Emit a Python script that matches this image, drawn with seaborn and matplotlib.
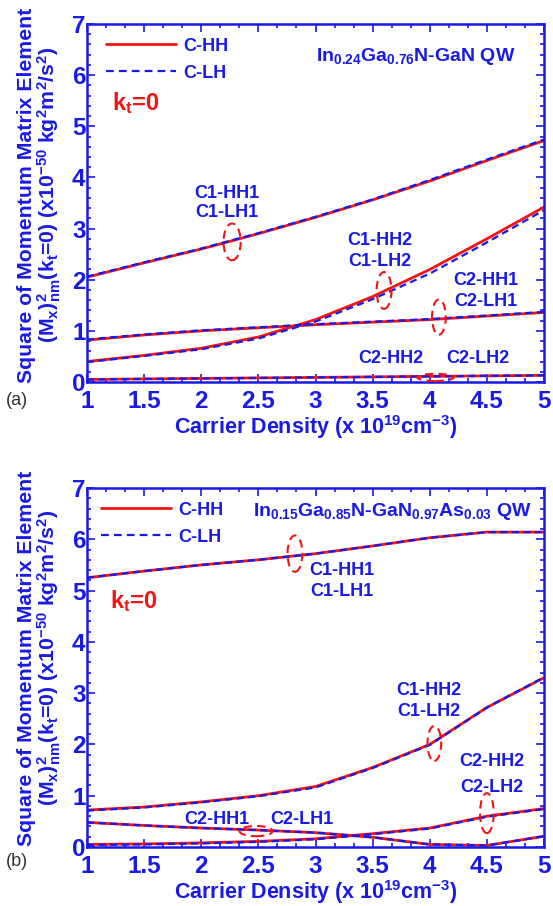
import numpy as np
import pandas as pd
import matplotlib
matplotlib.use("Agg")
import matplotlib.pyplot as plt
import seaborn as sns
from matplotlib.patches import Ellipse
from matplotlib.ticker import MultipleLocator, AutoMinorLocator, FuncFormatter
from matplotlib.lines import Line2D

# ---------------- data ----------------
density = [1.0, 1.5, 2.0, 2.5, 3.0, 3.5, 4.0, 4.5, 5.0]

# panel (a): In0.24Ga0.76N-GaN QW
a_c1_hh1 = [2.05, 2.33, 2.60, 2.90, 3.22, 3.56, 3.93, 4.33, 4.72]
a_c1_lh1 = [2.06, 2.34, 2.61, 2.91, 3.23, 3.57, 3.95, 4.35, 4.74]
a_c1_hh2 = [0.40, 0.52, 0.66, 0.88, 1.22, 1.67, 2.20, 2.80, 3.42]
a_c1_lh2 = [0.39, 0.51, 0.64, 0.85, 1.18, 1.62, 2.12, 2.73, 3.36]
a_c2_hh1 = [0.82, 0.92, 1.00, 1.06, 1.12, 1.17, 1.22, 1.29, 1.36]
a_c2_lh1 = [0.83, 0.93, 1.01, 1.07, 1.13, 1.18, 1.23, 1.30, 1.37]
a_c2_hh2 = [0.05, 0.06, 0.07, 0.08, 0.09, 0.10, 0.11, 0.12, 0.13]
a_c2_lh2 = [0.05, 0.06, 0.07, 0.08, 0.09, 0.10, 0.11, 0.12, 0.13]

# panel (b): In0.15Ga0.85N-GaN0.97As0.03 QW
b_c1_hh1 = [5.25, 5.38, 5.50, 5.60, 5.72, 5.87, 6.03, 6.14, 6.14]
b_c1_lh1 = [5.25, 5.38, 5.50, 5.60, 5.72, 5.87, 6.03, 6.14, 6.14]
b_c1_hh2 = [0.72, 0.78, 0.88, 1.00, 1.18, 1.55, 2.00, 2.72, 3.30]
b_c1_lh2 = [0.71, 0.77, 0.87, 0.99, 1.16, 1.54, 1.99, 2.72, 3.31]
b_c2_hh1 = [0.48, 0.42, 0.37, 0.33, 0.28, 0.19, 0.05, 0.03, 0.21]
b_c2_lh1 = [0.48, 0.42, 0.37, 0.33, 0.28, 0.19, 0.05, 0.03, 0.21]
b_c2_hh2 = [0.05, 0.06, 0.08, 0.11, 0.16, 0.26, 0.37, 0.60, 0.75]
b_c2_lh2 = [0.04, 0.05, 0.07, 0.10, 0.15, 0.25, 0.36, 0.59, 0.74]

legend_labels = ["C-HH", "C-LH"]

# ---------------- style ----------------
sns.set_theme(style="ticks")
plt.rcParams["font.family"] = ["Liberation Sans", "DejaVu Sans"]
plt.rcParams["font.weight"] = "bold"
plt.rcParams["mathtext.fontset"] = "custom"
plt.rcParams["mathtext.rm"] = "Liberation Sans:bold"
plt.rcParams["mathtext.it"] = "Liberation Sans:bold"
plt.rcParams["mathtext.bf"] = "Liberation Sans:bold"
plt.rcParams["mathtext.default"] = "regular"

BLUE = "#1a1ae6"
RED = "#f01414"

fig = plt.figure(figsize=(5.53, 9.06), dpi=100)
W, H = 553, 906
ax_a = fig.add_axes([87 / W, 1 - 382 / H, 457 / W, 358 / H])
ax_b = fig.add_axes([87 / W, 1 - 847 / H, 457 / W, 359 / H])


def draw_pairs(ax, pairs):
    for hh, lh in pairs:
        sns.lineplot(x=density, y=hh, ax=ax, color=RED, lw=2.0, solid_capstyle="butt")
    for hh, lh in pairs:
        sns.lineplot(x=density, y=lh, ax=ax, color=BLUE, lw=1.6, dashes=False,
                     linestyle=(0, (3.2, 2.0)))


def style_axes(ax, ylab_y):
    ax.set_xlim(1, 5)
    ax.set_ylim(0, 7)
    ax.xaxis.set_major_locator(MultipleLocator(0.5))
    ax.xaxis.set_minor_locator(AutoMinorLocator(3))
    ax.yaxis.set_major_locator(MultipleLocator(1))
    ax.yaxis.set_minor_locator(AutoMinorLocator(5))
    ax.xaxis.set_major_formatter(FuncFormatter(lambda v, p: f"{v:g}"))
    ax.yaxis.set_major_formatter(FuncFormatter(lambda v, p: f"{v:g}"))
    ax.tick_params(which="both", direction="in", top=True, right=True,
                   color=BLUE, labelcolor=BLUE, width=1.2)
    ax.tick_params(which="major", length=6, labelsize=17.5)
    ax.tick_params(which="minor", length=3)
    ax.tick_params(axis="y", pad=1)
    ax.tick_params(axis="x", pad=6)
    for lab in ax.get_xticklabels() + ax.get_yticklabels():
        lab.set_fontweight("bold")
    for s in ax.spines.values():
        s.set_color(BLUE)
        s.set_linewidth(1.8)
    ax.set_xlabel(r"Carrier Density (x 10$^{19}$cm$^{-3}$)", color=BLUE,
                  fontsize=15.5, fontweight="bold", labelpad=0)
    ax.set_ylabel("Square of Momentum Matrix Element\n"
                  r"(M$_x$)$^2_{nm}$(k$_t$=0) (x10$^{-50}$ kg$^2$m$^2$/s$^2$)",
                  color=BLUE, fontsize=15.3, fontweight="bold",
                  linespacing=1.0)
    ax.yaxis.set_label_coords(-0.052, ylab_y)
    ax.grid(False)


def add_legend(ax, anchor):
    handles = [Line2D([], [], color=RED, lw=2.0),
               Line2D([], [], color=BLUE, lw=1.6, linestyle=(0, (3.5, 2.3)))]
    leg = ax.legend(handles, legend_labels, loc="upper left", bbox_to_anchor=anchor,
                    frameon=False, handlelength=3.9, handletextpad=0.4,
                    labelspacing=0.55, prop={"size": 13, "weight": "bold"})
    for t in leg.get_texts():
        t.set_color(BLUE)


def ell(ax, x, y, w, h):
    ax.add_patch(Ellipse((x, y), w, h, fill=False, ec=RED, lw=1.5, ls=(0, (4, 2.5)),
                         zorder=5))


def lbl(ax, x, y, s, size=13):
    ax.text(x, y, s, color=BLUE, fontsize=size, fontweight="bold",
            ha="center", va="center")


# ---------------- panel (a) ----------------
draw_pairs(ax_a, [(a_c1_hh1, a_c1_lh1), (a_c1_hh2, a_c1_lh2),
                  (a_c2_hh1, a_c2_lh1), (a_c2_hh2, a_c2_lh2)])
style_axes(ax_a, 0.522)
add_legend(ax_a, (0.005, 1.007))
ax_a.text(3.88, 6.36, r"In$_{0.24}$Ga$_{0.76}$N-GaN QW", color=BLUE, fontsize=14,
          fontweight="bold", ha="center", va="center")
ax_a.text(1.22, 5.45, r"k$_t$=0", color=RED, fontsize=17, fontweight="bold",
          ha="left", va="center")
lbl(ax_a, 2.22, 3.68, "C1-HH1")
lbl(ax_a, 2.22, 3.31, "C1-LH1")
ell(ax_a, 2.27, 2.74, 0.15, 0.72)
lbl(ax_a, 3.56, 2.77, "C1-HH2")
lbl(ax_a, 3.56, 2.35, "C1-LH2")
ell(ax_a, 3.60, 1.79, 0.13, 0.72)
lbl(ax_a, 4.49, 1.99, "C2-HH1")
lbl(ax_a, 4.49, 1.57, "C2-LH1")
ell(ax_a, 4.08, 1.27, 0.12, 0.69)
lbl(ax_a, 3.66, 0.46, "C2-HH2")
lbl(ax_a, 4.42, 0.46, "C2-LH2")
ell(ax_a, 4.05, 0.09, 0.32, 0.14)
fig.text(17 / W, 1 - 400 / H, "(a)", color="#333333", fontsize=13,
         fontweight="normal", ha="center", va="center")

# ---------------- panel (b) ----------------
draw_pairs(ax_b, [(b_c1_hh1, b_c1_lh1), (b_c1_hh2, b_c1_lh2),
                  (b_c2_hh1, b_c2_lh1), (b_c2_hh2, b_c2_lh2)])
style_axes(ax_b, 0.526)
add_legend(ax_b, (-0.005, 1.007))
ax_b.text(3.67, 6.54, r"In$_{0.15}$Ga$_{0.85}$N-GaN$_{0.97}$As$_{0.03}$ QW", color=BLUE,
          fontsize=14, fontweight="bold", ha="center", va="center")
ax_b.text(1.2, 4.8, r"k$_t$=0", color=RED, fontsize=17, fontweight="bold",
          ha="left", va="center")
lbl(ax_b, 3.23, 5.40, "C1-HH1")
lbl(ax_b, 3.23, 4.98, "C1-LH1")
ell(ax_b, 2.82, 5.72, 0.13, 0.71)
lbl(ax_b, 3.99, 3.06, "C1-HH2")
lbl(ax_b, 3.99, 2.64, "C1-LH2")
ell(ax_b, 4.04, 2.02, 0.12, 0.68)
lbl(ax_b, 4.54, 1.66, "C2-HH2")
lbl(ax_b, 4.54, 1.16, "C2-LH2")
ell(ax_b, 4.50, 0.66, 0.12, 0.78)
lbl(ax_b, 2.14, 0.53, "C2-HH1")
lbl(ax_b, 2.88, 0.53, "C2-LH1")
ell(ax_b, 2.48, 0.31, 0.29, 0.20)
fig.text(17 / W, 1 - 862 / H, "(b)", color="#333333", fontsize=13,
         fontweight="normal", ha="center", va="center")

fig.savefig("out.png", dpi=100)
